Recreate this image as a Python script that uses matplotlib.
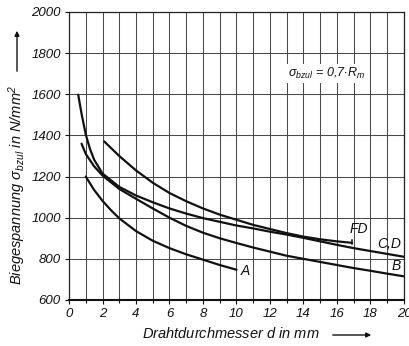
import matplotlib
matplotlib.use("Agg")
import matplotlib.pyplot as plt

plt.rcParams["font.family"] = ["Liberation Sans", "DejaVu Sans"]
plt.rcParams["font.style"] = "italic"
plt.rcParams["mathtext.fontset"] = "custom"
plt.rcParams["mathtext.it"] = "Liberation Sans:italic"
plt.rcParams["mathtext.rm"] = "Liberation Sans:italic"
plt.rcParams["mathtext.default"] = "it"

# Allowable bending stress (0.7 * Rm) over wire diameter for spring wire grades
d_A = [1, 1.5, 2, 2.5, 3, 4, 5, 6, 7, 8, 9, 10]
s_A = [1200, 1135, 1082, 1037, 997, 935, 888, 852, 822, 796, 770, 747]

d_B = [0.75, 1, 1.5, 2, 3, 4, 5, 6, 7, 8, 9, 10, 11, 12, 13, 14, 15, 16, 17, 18, 19, 20]
s_B = [1360, 1310, 1250, 1205, 1140, 1092, 1045, 1000, 960, 927, 900, 877, 855, 835, 815, 800, 785, 770, 755, 742, 728, 715]

d_CD = [0.55, 0.75, 1, 1.25, 1.5, 2, 3, 4, 5, 6, 7, 8, 9, 10, 11, 12, 13, 14, 15, 16, 17, 18, 19, 20]
s_CD = [1598, 1505, 1405, 1335, 1282, 1215, 1150, 1108, 1075, 1045, 1020, 998, 980, 962, 948, 932, 918, 902, 885, 868, 852, 838, 824, 810]

d_FD = [2.1, 3, 4, 5, 6, 7, 8, 9, 10, 11, 12, 13, 14, 15, 16, 16.9]
s_FD = [1371, 1300, 1230, 1170, 1120, 1080, 1045, 1015, 990, 965, 945, 925, 908, 895, 885, 878]

x_ticks = [0, 2, 4, 6, 8, 10, 12, 14, 16, 18, 20]
y_ticks = [600, 800, 1000, 1200, 1400, 1600, 1800, 2000]

fig = plt.figure(figsize=(4.10, 3.46), dpi=100)
ax = fig.add_axes([69 / 410, 46 / 346, 335 / 410, 288 / 346])

# grid: every 1 mm and every 200 N/mm²
for xv in range(0, 21):
    ax.axvline(xv, color="#4a4a4a", lw=0.75, zorder=1)
for yv in y_ticks:
    ax.axhline(yv, color="#4a4a4a", lw=0.75, zorder=1)

curve_kw = dict(color="#111111", lw=1.6, solid_capstyle="round", zorder=3)
ax.plot(d_A, s_A, **curve_kw)
ax.plot(d_B, s_B, **curve_kw)
ax.plot(d_CD, s_CD, **curve_kw)
ax.plot(d_FD, s_FD, **curve_kw)
# end mark of the FD curve
ax.plot([d_FD[-1], d_FD[-1]], [s_FD[-1] - 6, s_FD[-1] + 14], color="#111111", lw=1.1, zorder=3)

lab_kw = dict(fontsize=10, style="italic", color="#111111", zorder=4)
ax.text(10.25, 742, "A", ha="left", va="center", **lab_kw)
ax.text(19.55, 765, "B", ha="center", va="center", **lab_kw)
ax.text(19.1, 872, "C,D", ha="center", va="center", **lab_kw)
ax.text(17.3, 945, "FD", ha="center", va="center", **lab_kw)
ax.text(15.4, 1700, r"$\sigma_{bzul}$ = 0,7$\cdot$$R_m$", ha="center", va="center",
        fontsize=9, color="#111111",
        bbox=dict(facecolor="white", edgecolor="none", pad=1.5), zorder=4)

ax.set_xlim(0, 20)
ax.set_ylim(600, 2000)
ax.set_xticks(x_ticks)
ax.set_yticks(y_ticks)
ax.set_xticks(range(0, 21), minor=True)
ax.tick_params(axis="both", which="major", direction="out", length=3, width=0.8,
               labelsize=9.5, colors="#111111", pad=3)
ax.tick_params(axis="x", which="minor", direction="out", length=2, width=0.8, colors="#111111")
for lbl in ax.get_xticklabels() + ax.get_yticklabels():
    lbl.set_style("italic")

for side in ["left", "right", "top"]:
    ax.spines[side].set_color("#222222")
    ax.spines[side].set_linewidth(0.9)
ax.spines["bottom"].set_linestyle((0, (1, 1)))
ax.spines["bottom"].set_linewidth(1.5)
ax.spines["bottom"].set_color("#111111")

fig.text(231 / 410, 1 - 334 / 346, "Drahtdurchmesser $d$ in mm", ha="center", va="center",
         fontsize=10.5, style="italic", color="#111111")
fig.text(17 / 410, 1 - 185 / 346, r"Biegespannung $\sigma_{bzul}$ in N/mm$^2$", ha="center",
         va="center", rotation=90, fontsize=10.5, style="italic", color="#111111")

fig.patches.append(matplotlib.patches.FancyArrowPatch(
    (330 / 410, 1 - 335 / 346), (374 / 410, 1 - 335 / 346), transform=fig.transFigure,
    arrowstyle="-|>", mutation_scale=7, lw=1.0, color="#111111"))
fig.patches.append(matplotlib.patches.FancyArrowPatch(
    (17 / 410, 1 - 74 / 346), (17 / 410, 1 - 28 / 346), transform=fig.transFigure,
    arrowstyle="-|>", mutation_scale=7, lw=1.0, color="#111111"))

fig.savefig("out.png", dpi=100)
